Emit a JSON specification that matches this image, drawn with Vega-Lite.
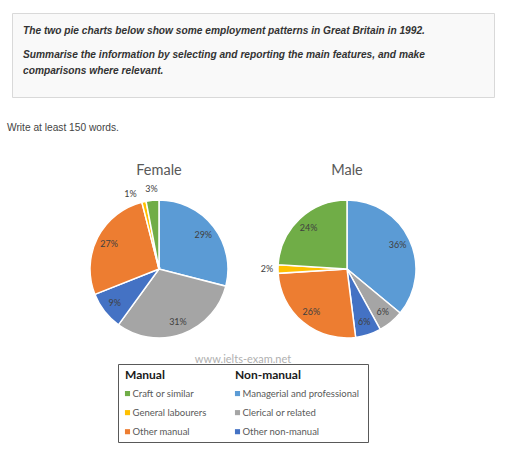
{
  "$schema": "https://vega.github.io/schema/vega-lite/v6.json",
  "background": "white",
  "padding": {"left": 0, "top": 12, "right": 0, "bottom": 0},
  "config": {
    "view": {"stroke": null},
    "font": "Lato",
    "title": {"font": "Lato", "fontWeight": "normal", "color": "#595959", "fontSize": 14.5, "anchor": "middle", "baseline": "alphabetic", "offset": 3}
  },
  "datasets": {
    "pies": [
      {"gender": "Female", "category": "Managerial and professional", "pct": 0.29, "ord": 1},
      {"gender": "Female", "category": "Clerical or related", "pct": 0.31, "ord": 2},
      {"gender": "Female", "category": "Other non-manual", "pct": 0.09, "ord": 3},
      {"gender": "Female", "category": "Other manual", "pct": 0.27, "ord": 4},
      {"gender": "Female", "category": "General labourers", "pct": 0.01, "ord": 5},
      {"gender": "Female", "category": "Craft or similar", "pct": 0.03, "ord": 6},
      {"gender": "Male", "category": "Managerial and professional", "pct": 0.36, "ord": 1},
      {"gender": "Male", "category": "Clerical or related", "pct": 0.06, "ord": 2},
      {"gender": "Male", "category": "Other non-manual", "pct": 0.06, "ord": 3},
      {"gender": "Male", "category": "Other manual", "pct": 0.26, "ord": 4},
      {"gender": "Male", "category": "General labourers", "pct": 0.02, "ord": 5},
      {"gender": "Male", "category": "Craft or similar", "pct": 0.24, "ord": 6}
    ],
    "legend": [
      {"category": "Craft or similar", "group": "Manual", "rank": 1},
      {"category": "General labourers", "group": "Manual", "rank": 2},
      {"category": "Other manual", "group": "Manual", "rank": 3},
      {"category": "Managerial and professional", "group": "Non-manual", "rank": 1},
      {"category": "Clerical or related", "group": "Non-manual", "rank": 2},
      {"category": "Other non-manual", "group": "Non-manual", "rank": 3}
    ]
  },
  "bounds": "flush",
  "spacing": 168,
  "vconcat": [
    {
      "bounds": "flush",
      "spacing": 11,
      "hconcat": [
        {"width": 1, "height": 84, "data": {"values": [{}]}, "mark": {"type": "text", "text": ""}, "encoding": {}},
        {
          "width": 482, "height": 84,
          "view": {"fill": "#f9f9f9", "stroke": "#d9d9d9", "strokeWidth": 1},
          "data": {"values": [{}]},
          "layer": [
            {"mark": {"type": "text", "text": "The two pie charts below show some employment patterns in Great Britain in 1992.", "font": "Liberation Sans", "fontStyle": "italic", "fontWeight": "bold", "fontSize": 10.2, "color": "#333333", "align": "left", "baseline": "middle"},
             "encoding": {"x": {"value": 11}, "y": {"value": 18}}},
            {"mark": {"type": "text", "text": ["Summarise the information by selecting and reporting the main features, and make", "comparisons where relevant."], "lineHeight": 16, "font": "Liberation Sans", "fontStyle": "italic", "fontWeight": "bold", "fontSize": 10.2, "color": "#333333", "align": "left", "baseline": "middle"},
             "encoding": {"x": {"value": 11}, "y": {"value": 42}}},
            {"mark": {"type": "text", "text": "Write at least 150 words.", "font": "Liberation Sans", "fontSize": 10.2, "color": "#444444", "align": "left", "baseline": "middle"},
             "encoding": {"x": {"value": -5}, "y": {"value": 115}}}
          ]
        }
      ]
    },
    {
      "bounds": "flush",
      "spacing": 183,
      "vconcat": [
        {
          "bounds": "flush",
          "spacing": 38,
          "hconcat": [
            {"width": 46, "height": 176, "data": {"values": [{}]}, "mark": {"type": "text", "text": ""}, "encoding": {}},
            {
              "width": 150, "height": 176,
              "title": {"text": "Female"},
              "data": {"name": "pies"},
              "transform": [{"filter": "datum.gender === 'Female'"}],
              "encoding": {
                "theta": {"field": "pct", "type": "quantitative", "stack": true},
                "order": {"field": "ord", "type": "quantitative"},
                "detail": {"field": "category", "type": "nominal"}
              },
              "layer": [
                {"mark": {"type": "arc", "outerRadius": 69, "stroke": "white", "strokeWidth": 1.5},
                 "encoding": {"color": {"field": "category", "type": "nominal", "legend": null,
                   "scale": {"domain": ["Managerial and professional", "Clerical or related", "Other non-manual", "Other manual", "General labourers", "Craft or similar"], "range": ["#5B9BD5", "#A5A5A5", "#4472C4", "#ED7D31", "#FFC000", "#70AD47"]}}}},
                {"mark": {"type": "text", "radius": 56, "fontSize": 9, "color": "#404040"},
                 "encoding": {"text": {"condition": {"test": "datum.pct >= 0.05", "field": "pct", "type": "quantitative", "format": ".0%"}, "value": ""}}},
                {"mark": {"type": "text", "radius": 80, "fontSize": 9, "color": "#404040"},
                 "encoding": {"text": {"condition": {"test": "datum.pct >= 0.015 && datum.pct < 0.05", "field": "pct", "type": "quantitative", "format": ".0%"}, "value": ""}}},
                {"mark": {"type": "text", "radius": 80, "dx": -11, "dy": 3, "fontSize": 9, "color": "#404040"},
                 "encoding": {"text": {"condition": {"test": "datum.pct < 0.015", "field": "pct", "type": "quantitative", "format": ".0%"}, "value": ""}}}
              ]
            },
            {
              "width": 150, "height": 176,
              "title": {"text": "Male"},
              "data": {"name": "pies"},
              "transform": [{"filter": "datum.gender === 'Male'"}],
              "encoding": {
                "theta": {"field": "pct", "type": "quantitative", "stack": true},
                "order": {"field": "ord", "type": "quantitative"},
                "detail": {"field": "category", "type": "nominal"}
              },
              "layer": [
                {"mark": {"type": "arc", "outerRadius": 69, "stroke": "white", "strokeWidth": 1.5},
                 "encoding": {"color": {"field": "category", "type": "nominal", "legend": null,
                   "scale": {"domain": ["Managerial and professional", "Clerical or related", "Other non-manual", "Other manual", "General labourers", "Craft or similar"], "range": ["#5B9BD5", "#A5A5A5", "#4472C4", "#ED7D31", "#FFC000", "#70AD47"]}}}},
                {"mark": {"type": "text", "radius": 56, "fontSize": 9, "color": "#404040"},
                 "encoding": {"text": {"condition": {"test": "datum.pct >= 0.05", "field": "pct", "type": "quantitative", "format": ".0%"}, "value": ""}}},
                {"mark": {"type": "text", "radius": 80, "fontSize": 9, "color": "#404040"},
                 "encoding": {"text": {"condition": {"test": "datum.pct < 0.05", "field": "pct", "type": "quantitative", "format": ".0%"}, "value": ""}}}
              ]
            }
          ]
        },
        {
          "bounds": "flush",
          "spacing": 108,
          "hconcat": [
            {"width": 10, "height": 78, "data": {"values": [{}]}, "mark": {"type": "text", "text": ""}, "encoding": {}},
            {
              "width": 250, "height": 78,
              "view": {"stroke": "#595959", "strokeWidth": 1},
              "title": {"text": "www.ielts-exam.net", "color": "#b0b0b0", "fontSize": 11, "offset": -1},
              "encoding": {
                "x": {"field": "group", "type": "nominal", "axis": null, "scale": {"type": "point", "padding": 0, "domain": ["Manual", "Non-manual"], "range": [9.5, 119.5]}},
                "y": {"field": "rank", "type": "ordinal", "axis": null, "scale": {"type": "point", "padding": 0, "domain": [0, 1, 2, 3], "range": [10.5, 67.7]}}
              },
              "layer": [
                {"data": {"name": "legend"},
                 "mark": {"type": "square", "size": 26, "filled": true, "opacity": 1},
                 "encoding": {"color": {"field": "category", "type": "nominal", "legend": null,
                   "scale": {"domain": ["Managerial and professional", "Clerical or related", "Other non-manual", "Other manual", "General labourers", "Craft or similar"], "range": ["#5B9BD5", "#A5A5A5", "#4472C4", "#ED7D31", "#FFC000", "#70AD47"]}}}},
                {"data": {"name": "legend"},
                 "mark": {"type": "text", "align": "left", "baseline": "middle", "dx": 5, "fontSize": 9.5, "color": "#595959"},
                 "encoding": {"text": {"field": "category", "type": "nominal"}}},
                {"data": {"values": [{"group": "Manual", "rank": 0}, {"group": "Non-manual", "rank": 0}]},
                 "mark": {"type": "text", "align": "left", "baseline": "middle", "dx": -2.5, "fontSize": 12, "fontWeight": "bold", "color": "#1a1a1a"},
                 "encoding": {"text": {"field": "group", "type": "nominal"}}}
              ]
            }
          ]
        }
      ]
    }
  ]
}
